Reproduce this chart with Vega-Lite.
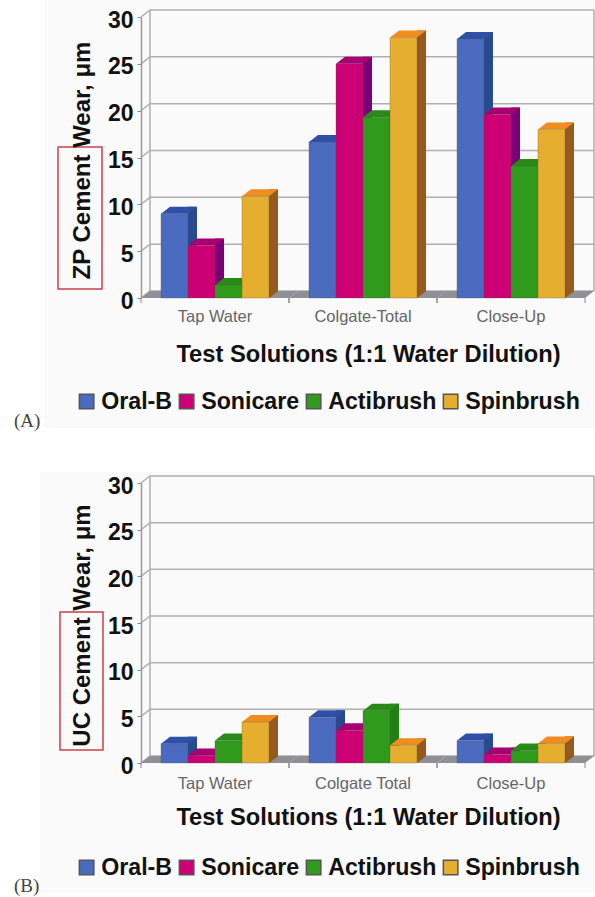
{"$schema":"https://vega.github.io/schema/vega-lite/v6.json","width":595,"height":897,"autosize":{"type":"fit","contains":"padding"},"padding":0,"background":"white","config":{"view":{"stroke":null},"font":"Liberation Sans","axis":{"grid":false}},"datasets":{"a":[{"solution":"Tap Water","brush":"Oral-B","wear":9.0},{"solution":"Tap Water","brush":"Sonicare","wear":5.6},{"solution":"Tap Water","brush":"Actibrush","wear":1.4},{"solution":"Tap Water","brush":"Spinbrush","wear":10.85},{"solution":"Colgate-Total","brush":"Oral-B","wear":16.65},{"solution":"Colgate-Total","brush":"Sonicare","wear":25.0},{"solution":"Colgate-Total","brush":"Actibrush","wear":19.3},{"solution":"Colgate-Total","brush":"Spinbrush","wear":27.8},{"solution":"Close-Up","brush":"Oral-B","wear":27.65},{"solution":"Close-Up","brush":"Sonicare","wear":19.6},{"solution":"Close-Up","brush":"Actibrush","wear":14.1},{"solution":"Close-Up","brush":"Spinbrush","wear":18.0}],"b":[{"solution":"Tap Water","brush":"Oral-B","wear":2.07},{"solution":"Tap Water","brush":"Sonicare","wear":0.8},{"solution":"Tap Water","brush":"Actibrush","wear":2.4},{"solution":"Tap Water","brush":"Spinbrush","wear":4.4},{"solution":"Colgate Total","brush":"Oral-B","wear":4.9},{"solution":"Colgate Total","brush":"Sonicare","wear":3.5},{"solution":"Colgate Total","brush":"Actibrush","wear":5.6},{"solution":"Colgate Total","brush":"Spinbrush","wear":1.9},{"solution":"Close-Up","brush":"Oral-B","wear":2.4},{"solution":"Close-Up","brush":"Sonicare","wear":0.9},{"solution":"Close-Up","brush":"Actibrush","wear":1.35},{"solution":"Close-Up","brush":"Spinbrush","wear":2.1}],"ticks":[{"wear":0},{"wear":5},{"wear":10},{"wear":15},{"wear":20},{"wear":25},{"wear":30}],"catA":[{"solution":"Tap Water"},{"solution":"Colgate-Total"},{"solution":"Close-Up"}],"catB":[{"solution":"Tap Water"},{"solution":"Colgate Total"},{"solution":"Close-Up"}],"labA":[{"tag":"(A)"}],"labB":[{"tag":"(B)"}]},"layer":[{"resolve":{"scale":{"color":"independent","xOffset":"independent"}},"layer":[{"data":{"name":"labA"},"mark":{"type":"point","filled":true,"opacity":1,"size":4,"shape":"M-170,-298 H380 V130 H-170 Z","fill":"#fafafa"},"encoding":{"x":{"datum":"Tap Water","type":"nominal","scale":{"domain":["Tap Water","Colgate-Total","Close-Up"],"range":[141,585],"paddingInner":0,"paddingOuter":0},"axis":{"zindex":1,"orient":"bottom","offset":-599,"title":"Test Solutions (1:1 Water Dilution)","titleFont":"Liberation Sans","titleFontSize":23.7,"titleFontWeight":"bold","titleColor":"#111","titleX":368,"titleY":44,"titleAnchor":"middle","labelFontSize":16.5,"labelColor":"#666","labelAngle":0,"labelPadding":10,"ticks":false,"domain":false}},"y":{"datum":0,"type":"quantitative","scale":{"domain":[0,30],"range":[298,17],"nice":false},"axis":{"zindex":1,"orient":"left","offset":-141,"values":[0,5,10,15,20,25,30],"title":"ZP Cement  Wear, μm","titleFont":"Liberation Sans","titleFontSize":24,"titleFontWeight":"bold","titleColor":"#111","titleX":-47,"titleY":160,"labelFontSize":23,"labelFontWeight":"bold","labelColor":"#111","labelPadding":4,"labelOffset":3,"tickSize":4,"tickColor":"#888","domainColor":"#999","domainWidth":1.5}}}},{"data":{"name":"labA"},"mark":{"type":"text","align":"left","dx":-201,"dy":123,"font":"Liberation Serif","fontSize":19,"color":"#444"},"encoding":{"x":{"datum":"Tap Water","type":"nominal"},"y":{"datum":0,"type":"quantitative"},"text":{"field":"tag"}}},{"data":{"name":"labA"},"mark":{"type":"point","filled":false,"opacity":1,"size":4,"shape":"M-157,-151 H-113 V-9 H-157 Z","stroke":"#c8434a","strokeWidth":1.5},"encoding":{"x":{"datum":"Tap Water","type":"nominal"},"y":{"datum":0,"type":"quantitative"}}},{"data":{"name":"ticks"},"mark":{"type":"point","filled":false,"opacity":1,"size":4,"shape":"M-74,0 L-65,-7 L379,-7","stroke":"#b0b0b0","strokeWidth":1.5},"encoding":{"x":{"datum":"Tap Water","type":"nominal"},"y":{"field":"wear","type":"quantitative"}}},{"data":{"name":"labA"},"mark":{"type":"point","filled":false,"opacity":1,"size":4,"shape":"M-65,-7 L-65,274 M379,-7 L379,274","stroke":"#b0b0b0","strokeWidth":1.5},"encoding":{"x":{"datum":"Tap Water","type":"nominal"},"y":{"datum":30,"type":"quantitative"}}},{"data":{"name":"catA"},"mark":{"type":"point","filled":true,"opacity":1,"size":4,"shape":"M-74,0 L-65,-7 L83,-7 L74,0 Z","fill":"#8f8f96"},"encoding":{"x":{"field":"solution","type":"nominal"},"y":{"datum":0,"type":"quantitative"}}},{"data":{"name":"catA"},"mark":{"type":"point","filled":false,"opacity":1,"size":4,"shape":"M-74,0 L-74,5 M74,0 L74,5","stroke":"#888","strokeWidth":1},"encoding":{"x":{"field":"solution","type":"nominal"},"y":{"datum":0,"type":"quantitative"}}},{"data":{"name":"a"},"mark":{"type":"rule","strokeWidth":9,"yOffset":-7},"encoding":{"x":{"field":"solution","type":"nominal"},"xOffset":{"field":"brush","type":"nominal","scale":{"type":"band","domain":["Oral-B","Sonicare","Actibrush","Spinbrush"],"paddingInner":0,"paddingOuter":0.74,"range":[18,166]}},"y":{"field":"wear","type":"quantitative"},"y2":{"datum":0},"color":{"field":"brush","type":"nominal","legend":null,"scale":{"domain":["Oral-B","Sonicare","Actibrush","Spinbrush"],"range":["#2a4a90","#7a0078","#1f8014","#965a1e"]}}}},{"data":{"name":"a"},"mark":{"type":"point","filled":true,"opacity":1,"size":4,"shape":"M13.5,0 L23,0 L23,-7 Z","fill":"#8f8f96"},"encoding":{"x":{"field":"solution","type":"nominal"},"xOffset":{"field":"brush","type":"nominal","scale":{"type":"band","domain":["Oral-B","Sonicare","Actibrush","Spinbrush"],"paddingInner":0,"paddingOuter":0.74}},"y":{"datum":0,"type":"quantitative"}}},{"data":{"name":"a"},"mark":{"type":"point","filled":true,"opacity":1,"size":4,"shape":"M-13.5,0 L-4.5,-7 L22.5,-7 L13.5,0 Z"},"encoding":{"x":{"field":"solution","type":"nominal"},"xOffset":{"field":"brush","type":"nominal","scale":{"type":"band","domain":["Oral-B","Sonicare","Actibrush","Spinbrush"],"paddingInner":0,"paddingOuter":0.74}},"y":{"field":"wear","type":"quantitative"},"color":{"field":"brush","type":"nominal","legend":null,"scale":{"domain":["Oral-B","Sonicare","Actibrush","Spinbrush"],"range":["#2f50a8","#a80072","#2a8a18","#f08c20"]}}}},{"data":{"name":"a"},"mark":{"type":"bar","stroke":"#555","strokeWidth":0.5,"strokeOpacity":0.6},"encoding":{"x":{"field":"solution","type":"nominal"},"xOffset":{"field":"brush","type":"nominal","scale":{"type":"band","domain":["Oral-B","Sonicare","Actibrush","Spinbrush"],"paddingInner":0,"paddingOuter":0.74}},"y":{"field":"wear","type":"quantitative"},"y2":{"datum":0},"color":{"field":"brush","type":"nominal","scale":{"domain":["Oral-B","Sonicare","Actibrush","Spinbrush"],"range":["#4a6bbf","#cc0074","#2f9a1c","#e6ae2e"]},"legend":{"orient":"none","legendX":75,"legendY":390,"direction":"horizontal","columns":4,"title":null,"symbolType":"square","symbolSize":210,"symbolOpacity":1,"labelFontSize":23.2,"labelFontWeight":"bold","labelColor":"#111","labelFont":"Liberation Sans","labelOffset":3,"columnPadding":2,"gridAlign":"none","labelLimit":200}}}}]},{"resolve":{"scale":{"color":"independent","xOffset":"independent"}},"layer":[{"data":{"name":"labB"},"mark":{"type":"point","filled":true,"opacity":1,"size":4,"shape":"M-175,-291 H380 V130 H-175 Z","fill":"#fafafa"},"encoding":{"x":{"datum":"Tap Water","type":"nominal","scale":{"domain":["Tap Water","Colgate Total","Close-Up"],"range":[141,585],"paddingInner":0,"paddingOuter":0},"axis":{"zindex":1,"orient":"bottom","offset":-134,"title":"Test Solutions (1:1 Water Dilution)","titleFont":"Liberation Sans","titleFontSize":23.7,"titleFontWeight":"bold","titleColor":"#111","titleX":368,"titleY":42,"titleAnchor":"middle","labelFontSize":16.5,"labelColor":"#666","labelAngle":0,"labelPadding":12,"ticks":false,"domain":false,"encode":{"labels":{"update":{"dx":{"signal":"datum.value==='Tap Water'?12:0"}}}}}},"y":{"datum":0,"type":"quantitative","scale":{"domain":[0,30],"range":[763,483],"nice":false},"axis":{"zindex":1,"orient":"left","offset":-141,"values":[0,5,10,15,20,25,30],"title":"UC Cement  Wear, μm","titleFont":"Liberation Sans","titleFontSize":24,"titleFontWeight":"bold","titleColor":"#111","titleX":-47,"titleY":625,"labelFontSize":23,"labelFontWeight":"bold","labelColor":"#111","labelPadding":4,"labelOffset":3,"tickSize":4,"tickColor":"#888","domainColor":"#999","domainWidth":1.5}}}},{"data":{"name":"labB"},"mark":{"type":"text","align":"left","dx":-201,"dy":123,"font":"Liberation Serif","fontSize":19,"color":"#444"},"encoding":{"x":{"datum":"Tap Water","type":"nominal"},"y":{"datum":0,"type":"quantitative"},"text":{"field":"tag"}}},{"data":{"name":"labB"},"mark":{"type":"point","filled":false,"opacity":1,"size":4,"shape":"M-155,-151 H-112 V-13 H-155 Z","stroke":"#c8434a","strokeWidth":1.5},"encoding":{"x":{"datum":"Tap Water","type":"nominal"},"y":{"datum":0,"type":"quantitative"}}},{"data":{"name":"ticks"},"mark":{"type":"point","filled":false,"opacity":1,"size":4,"shape":"M-74,0 L-65,-7 L379,-7","stroke":"#b0b0b0","strokeWidth":1.5},"encoding":{"x":{"datum":"Tap Water","type":"nominal"},"y":{"field":"wear","type":"quantitative"}}},{"data":{"name":"labB"},"mark":{"type":"point","filled":false,"opacity":1,"size":4,"shape":"M-65,-7 L-65,273 M379,-7 L379,273","stroke":"#b0b0b0","strokeWidth":1.5},"encoding":{"x":{"datum":"Tap Water","type":"nominal"},"y":{"datum":30,"type":"quantitative"}}},{"data":{"name":"catB"},"mark":{"type":"point","filled":true,"opacity":1,"size":4,"shape":"M-74,0 L-65,-7 L83,-7 L74,0 Z","fill":"#8f8f96"},"encoding":{"x":{"field":"solution","type":"nominal"},"y":{"datum":0,"type":"quantitative"}}},{"data":{"name":"catB"},"mark":{"type":"point","filled":false,"opacity":1,"size":4,"shape":"M-74,0 L-74,5 M74,0 L74,5","stroke":"#888","strokeWidth":1},"encoding":{"x":{"field":"solution","type":"nominal"},"y":{"datum":0,"type":"quantitative"}}},{"data":{"name":"b"},"mark":{"type":"rule","strokeWidth":9,"yOffset":-7},"encoding":{"x":{"field":"solution","type":"nominal"},"xOffset":{"field":"brush","type":"nominal","scale":{"type":"band","domain":["Oral-B","Sonicare","Actibrush","Spinbrush"],"paddingInner":0,"paddingOuter":0.74,"range":[18,166]}},"y":{"field":"wear","type":"quantitative"},"y2":{"datum":0},"color":{"field":"brush","type":"nominal","legend":null,"scale":{"domain":["Oral-B","Sonicare","Actibrush","Spinbrush"],"range":["#2a4a90","#7a0078","#1f8014","#965a1e"]}}}},{"data":{"name":"b"},"mark":{"type":"point","filled":true,"opacity":1,"size":4,"shape":"M13.5,0 L23,0 L23,-7 Z","fill":"#8f8f96"},"encoding":{"x":{"field":"solution","type":"nominal"},"xOffset":{"field":"brush","type":"nominal","scale":{"type":"band","domain":["Oral-B","Sonicare","Actibrush","Spinbrush"],"paddingInner":0,"paddingOuter":0.74}},"y":{"datum":0,"type":"quantitative"}}},{"data":{"name":"b"},"mark":{"type":"point","filled":true,"opacity":1,"size":4,"shape":"M-13.5,0 L-4.5,-7 L22.5,-7 L13.5,0 Z"},"encoding":{"x":{"field":"solution","type":"nominal"},"xOffset":{"field":"brush","type":"nominal","scale":{"type":"band","domain":["Oral-B","Sonicare","Actibrush","Spinbrush"],"paddingInner":0,"paddingOuter":0.74}},"y":{"field":"wear","type":"quantitative"},"color":{"field":"brush","type":"nominal","legend":null,"scale":{"domain":["Oral-B","Sonicare","Actibrush","Spinbrush"],"range":["#2f50a8","#a80072","#2a8a18","#f08c20"]}}}},{"data":{"name":"b"},"mark":{"type":"bar","stroke":"#555","strokeWidth":0.5,"strokeOpacity":0.6},"encoding":{"x":{"field":"solution","type":"nominal"},"xOffset":{"field":"brush","type":"nominal","scale":{"type":"band","domain":["Oral-B","Sonicare","Actibrush","Spinbrush"],"paddingInner":0,"paddingOuter":0.74}},"y":{"field":"wear","type":"quantitative"},"y2":{"datum":0},"color":{"field":"brush","type":"nominal","scale":{"domain":["Oral-B","Sonicare","Actibrush","Spinbrush"],"range":["#4a6bbf","#cc0074","#2f9a1c","#e6ae2e"]},"legend":{"orient":"none","legendX":75,"legendY":856,"direction":"horizontal","columns":4,"title":null,"symbolType":"square","symbolSize":210,"symbolOpacity":1,"labelFontSize":23.2,"labelFontWeight":"bold","labelColor":"#111","labelFont":"Liberation Sans","labelOffset":3,"columnPadding":2,"gridAlign":"none","labelLimit":200}}}}]}],"resolve":{"scale":{"x":"independent","y":"independent","xOffset":"independent","color":"independent"},"axis":{"x":"independent","y":"independent"},"legend":{"color":"independent"}}}
